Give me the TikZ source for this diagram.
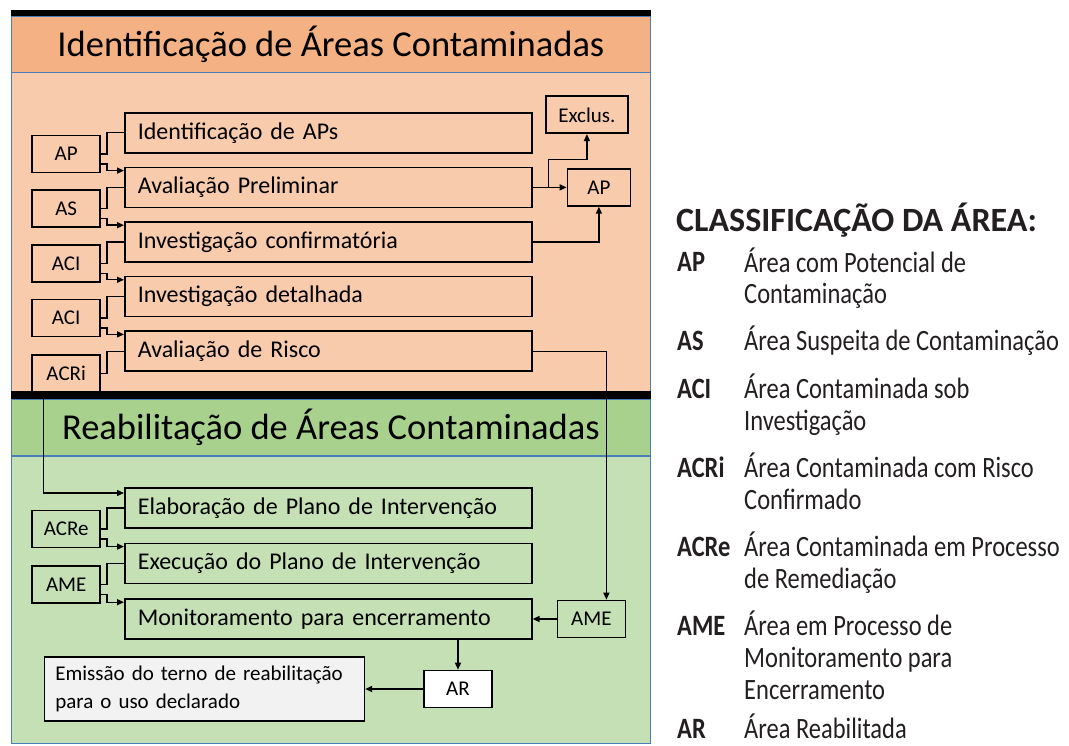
\documentclass[tikz,border=0pt]{standalone}
\usepackage{fontspec}
\setmainfont{Carlito}
\newfontfamily\legfont[FakeStretch=0.83]{Carlito}
\usetikzlibrary{arrows.meta, positioning, calc}

\definecolor{orgHead}{HTML}{F4B183}
\definecolor{orgBody}{HTML}{F8CBAD}
\definecolor{grnHead}{HTML}{A9D18E}
\definecolor{grnBody}{HTML}{C5E0B4}
\definecolor{frame}{HTML}{4A7EBB}
\definecolor{legText}{HTML}{231F20}

\begin{document}
\begin{tikzpicture}[
    x=1pt, y=-1pt,
    every node/.style={font=\fontsize{24}{28}\selectfont},
    head/.style={draw=frame, line width=0.8pt, fill=#1, minimum width=639pt, minimum height=56pt, inner sep=0pt, anchor=north west, font=\fontsize{36.5}{40}\selectfont},
    panel/.style={draw=frame, line width=0.8pt, fill=#1},
    stage/.style={draw, line width=1.6pt, minimum height=40pt, text width=381pt, inner xsep=13pt, inner ysep=0pt, align=left},
    tag/.style={draw, line width=1.6pt, minimum width=68pt, minimum height=37pt, inner sep=0pt, font=\fontsize{21}{24}\selectfont},
    emit/.style={draw, line width=1.6pt, fill=black!5, text width=298pt, inner xsep=11pt, minimum height=64pt, align=left, font=\fontsize{21}{28}\selectfont},
    link/.style={line width=1.4pt},
    arr/.style={link, -{Triangle[length=7pt, width=6pt]}},
    legHead/.style={anchor=base west, inner sep=0pt, text=legText, font=\bfseries\fontsize{34}{40}\selectfont},
    legKey/.style={anchor=base west, inner sep=0pt, text=legText, font=\legfont\bfseries\fontsize{29.5}{32}\selectfont},
    legDesc/.style={anchor=base west, inner sep=0pt, align=left, text=legText, font=\legfont\fontsize{29.5}{32}\selectfont},
]
    \useasboundingbox (0,0) rectangle (1069,746);

    % Panels
    \draw[panel=orgBody] (11,72) rectangle (650,391);
    \draw[panel=grnBody] (11,456) rectangle (650,743);
    \node[head=orgHead] (idH) at (11,16) {Identificação de Áreas Contaminadas};
    \node[head=grnHead] (reH) at (11,399) {Reabilitação de Áreas Contaminadas};
    \fill (11,10) rectangle (651,16.5);
    \fill (11,390.5) rectangle (651,399);

    % Identification stages
    \node[stage, anchor=north west] (s1) at (124,112) {Identificação de APs};
    \node[stage, below=13pt of s1] (s2) {Avaliação Preliminar};
    \node[stage, below=13pt of s2] (s3) {Investigação confirmatória};
    \node[stage, below=13pt of s3] (s4) {Investigação detalhada};
    \node[stage, below=13pt of s4] (s5) {Avaliação de Risco};

    % Classification tags
    \node[tag, anchor=north east] (tAP) at ([xshift=-23pt, yshift=-2pt]s1.west) {AP};
    \node[tag, anchor=north east] (tAS) at ([xshift=-23pt, yshift=-2pt]s2.west) {AS};
    \node[tag, anchor=north east] (tACIa) at ([xshift=-23pt, yshift=-2pt]s3.west) {ACI};
    \node[tag, anchor=north east] (tACIb) at ([xshift=-23pt, yshift=-2pt]s4.west) {ACI};
    \node[tag, anchor=north east] (tACRi) at ([xshift=-23pt, yshift=-3pt]s5.west) {ACRi};

    \draw[link] (tAP.east) -- ++(6,0) |- (s1.west);
    \draw[arr] ([yshift=-10pt]tAP.east) -- ++(6,0) |- ([yshift=-4pt]s2.north west);
    \draw[link] (tAS.east) -- ++(6,0) |- (s2.west);
    \draw[arr] ([yshift=-10pt]tAS.east) -- ++(6,0) |- ([yshift=-4pt]s3.north west);
    \draw[link] (tACIa.east) -- ++(6,0) |- (s3.west);
    \draw[arr] ([yshift=-10pt]tACIa.east) -- ++(6,0) |- ([yshift=-4pt]s4.north west);
    \draw[link] (tACIb.east) -- ++(6,0) |- (s4.west);
    \draw[arr] ([yshift=-10pt]tACIb.east) -- ++(6,0) |- ([yshift=-4pt]s5.north west);
    \draw[link] (tACRi.east) -- ++(6,0) |- (s5.west);

    % Outcomes of the preliminary steps
    \node[tag, minimum width=63pt, right=34pt of s2] (apR) {AP};
    \node[tag, minimum width=82pt, above=34pt of apR, xshift=-12pt] (exc) {Exclus.};
    \coordinate (brA) at ([xshift=16pt]s2.east);
    \draw[arr] (s2.east) -- (apR.west);
    \draw[arr] (brA) -- ++(0,-28) -| (exc.south);
    \draw[arr] (s3.east) -| (apR.south);

    % Rehabilitation stages
    \node[stage, anchor=north west] (e1) at (124,487) {Elaboração de Plano de Intervenção};
    \node[stage, below=14pt of e1] (e2) {Execução do Plano de Intervenção};
    \node[stage, below=14pt of e2] (e3) {Monitoramento para encerramento};
    \node[tag, anchor=north east] (tACRe) at ([xshift=-23pt, yshift=-2pt]e1.west) {ACRe};
    \node[tag, anchor=north east] (tAME) at ([xshift=-23pt, yshift=-2pt]e2.west) {AME};

    \draw[link] (tACRe.east) -- ++(6,0) |- (e1.west);
    \draw[arr] ([yshift=-10pt]tACRe.east) -- ++(6,0) |- ([yshift=-4pt]e2.north west);
    \draw[link] (tAME.east) -- ++(6,0) |- (e2.west);
    \draw[arr] ([yshift=-10pt]tAME.east) -- ++(6,0) |- ([yshift=-4pt]e3.north west);

    \node[tag, right=24pt of e3] (ameR) {AME};
    \node[tag, fill=white] (ar) at (458,689) {AR};
    \node[emit, left=58pt of ar] (emi) {Emissão do terno de reabilitação\\para o uso declarado};

    \draw[arr] ([xshift=12pt]tACRi.south west) |- ([yshift=-6pt]e1.north west);
    \draw[arr] (s5.east) -| ([xshift=15pt]ameR.north);
    \draw[arr] (ameR.west) -- (e3.east);
    \draw[arr] (e3.south -| ar.north) -- (ar.north);
    \draw[arr] (ar.west) -- (emi.east);

    % Legend (multi-line texts sit on the baseline of their last line)
    \node[legHead] (legT) at (676,232) {CLASSIFICAÇÃO DA ÁREA:};
    \node[legKey] (kAP) at (677,272) {AP};
    \node[legDesc] (dAP) at (744,304) {Área com Potencial de\\Contaminação};
    \node[legKey] (kAS) at (677,350) {AS};
    \node[legDesc] (dAS) at (744,350) {Área Suspeita de Contaminação};
    \node[legKey] (kACI) at (677,398) {ACI};
    \node[legDesc] (dACI) at (744,430) {Área Contaminada sob\\Investigação};
    \node[legKey] (kACRi) at (677,477) {ACRi};
    \node[legDesc] (dACRi) at (744,509) {Área Contaminada com Risco\\Confirmado};
    \node[legKey] (kACRe) at (677,556) {ACRe};
    \node[legDesc] (dACRe) at (744,588) {Área Contaminada em Processo\\de Remediação};
    \node[legKey] (kAME) at (677,635) {AME};
    \node[legDesc] (dAME) at (744,699) {Área em Processo de\\Monitoramento para\\Encerramento};
    \node[legKey] (kAR) at (677,738) {AR};
    \node[legDesc] (dAR) at (744,738) {Área Reabilitada};
\end{tikzpicture}
\end{document}
